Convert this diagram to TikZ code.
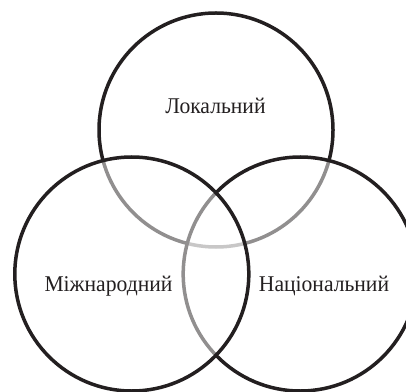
\documentclass[tikz,border=0pt]{standalone}
\usepackage{fontspec}
\setmainfont{Liberation Serif}
\definecolor{ink}{RGB}{35,31,32}
\begin{document}
\begin{tikzpicture}[x=1pt,y=1pt,
  ring/.style={draw=ink,line width=3.5pt,fill=white,fill opacity=0.5},
  lbl/.style={anchor=base,font=\fontsize{22.5}{26}\selectfont,text=ink,inner sep=0pt,xscale=0.96}]
\useasboundingbox (0,0) rectangle (406,391);
\path[ring] (216,261) circle (117);
\path[ring] (300.2,117) circle (117);
\path[ring] (131.8,117) circle (117);
\node[lbl] (lok) at (215.5,277.7) {Локальний};
\node[lbl] (mizh) at (108.5,99.7) {Міжнародний};
\node[lbl] (nats) at (324,99.7) {Національний};
\end{tikzpicture}
\end{document}
